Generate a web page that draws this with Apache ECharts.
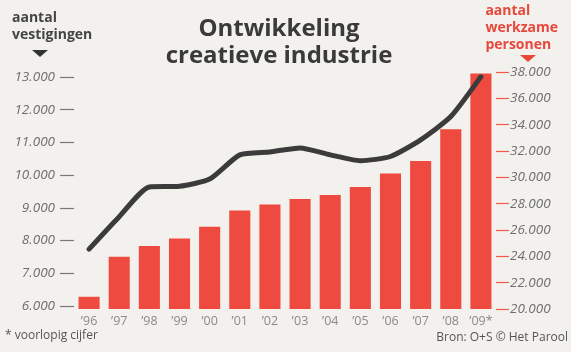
<!DOCTYPE html>
<html>
<head>
<meta charset="utf-8">
<script src="https://cdn.jsdelivr.net/npm/echarts@6/dist/echarts.min.js"></script>
<style>
html,body{margin:0;padding:0;background:#f3f1ed;}
#c{width:571px;height:352px;}
</style>
</head>
<body>
<div id="c"></div>
<script>
const years = ["’96","’97","’98","’99","’00","’01","’02","’03","’04","’05","’06","’07","’08","’09*"];
// aantal werkzame personen (bars, right axis)
const personen = [20930,23970,24780,25360,26240,27490,27940,28350,28650,29260,30300,31250,33660,37880];
// aantal vestigingen (line, left axis)
const vestigingen = [7740,8730,9640,9660,9880,10620,10710,10830,10620,10440,10570,11080,11790,13010];
const leftAxisRange = [6000, 13000, 1000];
const rightAxisRange = [20000, 38000, 2000];

const fmt = v => String(v).replace(/\B(?=(\d{3})+(?!\d))/g, '.');
const FONT = '"Open Sans", "Noto Sans", sans-serif';
const RED = '#ef4a3f';

const chart = echarts.init(document.getElementById('c'), null, {renderer:'canvas'});
chart.setOption({
  backgroundColor: '#f3f1ed',
  animation: false,
  title: {
    text: 'Ontwikkeling\ncreatieve industrie',
    left: 274, top: 11, textAlign: 'center',
    textStyle: {fontFamily: FONT, fontSize: 24, fontWeight: 'bold', color: '#3a3a3a', lineHeight: 27}
  },
  grid: [
    {left: 74, right: 75, top: 72, bottom: 43},
    {left: 74, right: 75, top: 77, bottom: 46}
  ],
  xAxis: [
    {type: 'category', data: years, gridIndex: 0,
     axisLine: {show: false}, axisTick: {show: false},
     axisLabel: {interval: 0, margin: 6, color: '#8a8a8a', fontFamily: FONT, fontSize: 12.5}},
    {type: 'category', data: years, gridIndex: 1, show: false}
  ],
  yAxis: [
    {type: 'value', gridIndex: 0, position: 'right',
     min: rightAxisRange[0], max: rightAxisRange[1], interval: rightAxisRange[2],
     splitLine: {show: false}, axisLine: {show: false},
     axisTick: {show: true, length: 13, lineStyle: {color: '#ef5a4a', width: 1.2}},
     axisLabel: {margin: 14, color: '#6e6e6e', fontFamily: FONT, fontStyle: 'italic', fontSize: 13.5, formatter: fmt}},
    {type: 'value', gridIndex: 1, position: 'left',
     min: leftAxisRange[0], max: leftAxisRange[1], interval: leftAxisRange[2],
     splitLine: {show: false}, axisLine: {show: false},
     axisTick: {show: true, length: 14, lineStyle: {color: '#777', width: 1.2}},
     axisLabel: {margin: 19, color: '#6e6e6e', fontFamily: FONT, fontStyle: 'italic', fontSize: 13.5, formatter: fmt}}
  ],
  series: [
    {type: 'bar', xAxisIndex: 0, yAxisIndex: 0, data: personen,
     barWidth: '70%', itemStyle: {color: RED}},
    {type: 'line', xAxisIndex: 1, yAxisIndex: 1, data: vestigingen,
     smooth: 0.2, symbol: 'none',
     lineStyle: {color: '#3b3b3b', width: 5, cap: 'round', join: 'round'}, z: 5}
  ],
  graphic: [
    {type: 'text', left: 12, top: 10, style: {text: 'aantal\nvestigingen', fontFamily: FONT, fontSize: 14, fontWeight: 'bold', fill: '#454545', lineHeight: 17}},
    {type: 'polygon', shape: {points: [[32,50],[48,50],[40,57]]}, style: {fill: '#333'}},
    {type: 'text', right: 13, top: 3, style: {text: 'aantal\nwerkzame\npersonen', align: 'right', fontFamily: FONT, fontSize: 14, fontWeight: 'bold', fill: '#e8473d', lineHeight: 17}},
    {type: 'polygon', shape: {points: [[520,55],[536,55],[528,62]]}, style: {fill: '#e8473d'}},
    {type: 'text', left: 5, top: 330, style: {text: '* voorlopig cijfer', fontFamily: FONT, fontSize: 12, fill: '#555'}},
    {type: 'text', right: 3, top: 332, style: {text: 'Bron: O+S © Het Parool', fontFamily: FONT, fontSize: 12, fill: '#555'}}
  ]
});
</script>
</body>
</html>
